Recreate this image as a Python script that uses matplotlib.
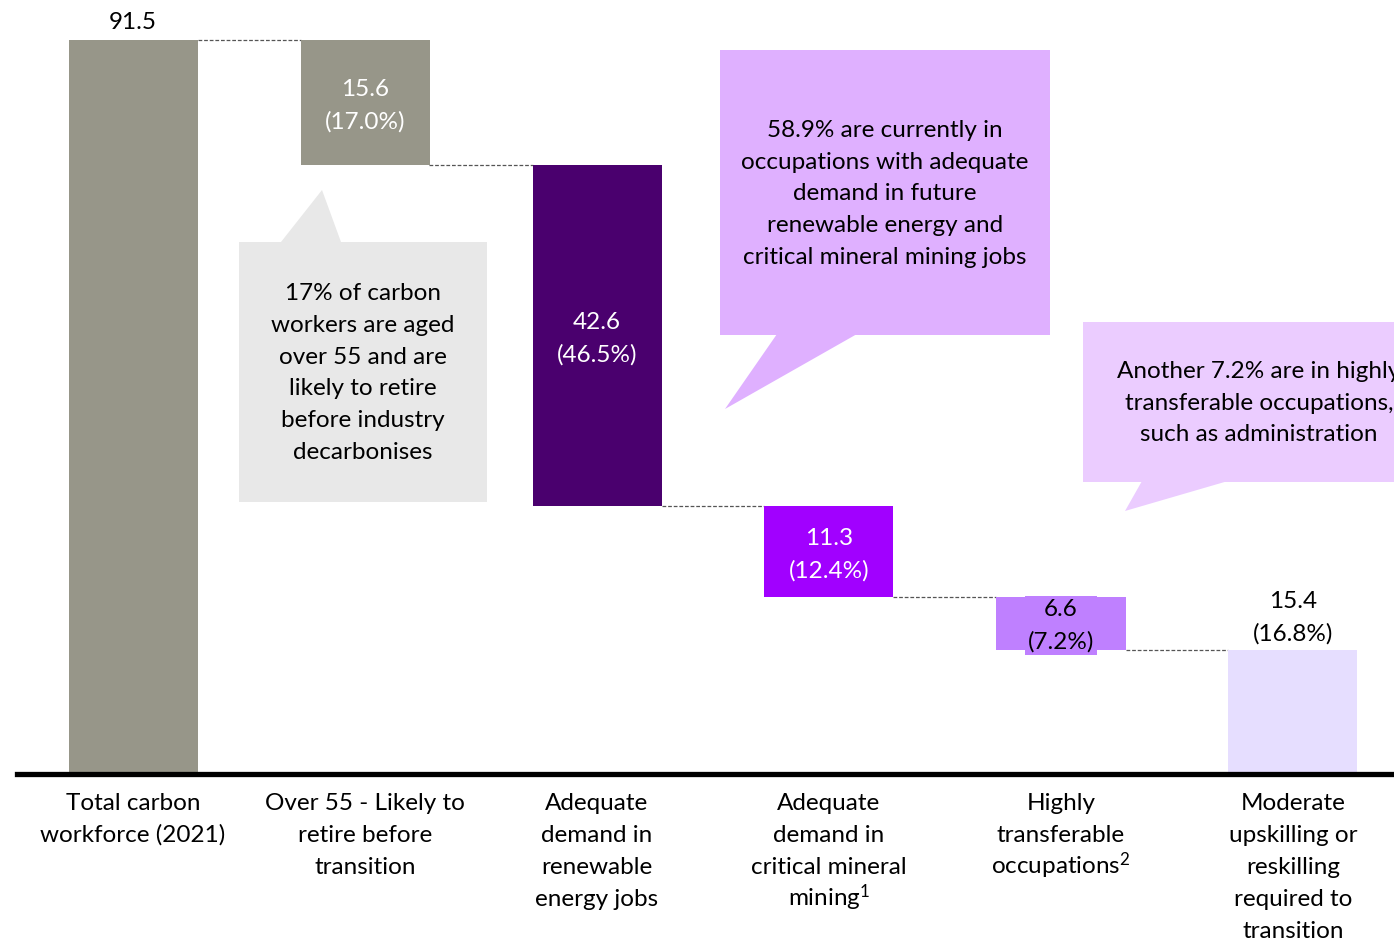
"""Waterfall of the carbon workforce by transition pathway."""

import matplotlib

matplotlib.use("Agg")
import matplotlib.pyplot as plt
from matplotlib.patches import Polygon
from matplotlib.transforms import Affine2D
import numpy as np

plt.rcParams["font.family"] = ["Lato", "DejaVu Sans"]
plt.rcParams["mathtext.default"] = "regular"

categories = [
    ["Total carbon", "workforce (2021)"],
    ["Over 55 - Likely to", "retire before", "transition"],
    ["Adequate", "demand in", "renewable", "energy jobs"],
    ["Adequate", "demand in", "critical mineral", "mining$^{1}$"],
    ["Highly", "transferable", "occupations$^{2}$"],
    ["Moderate", "upskilling or", "reskilling", "required to", "transition"],
]
values = [91.5, 15.6, 42.6, 11.3, 6.6, 15.4]
shares = [None, "17.0%", "46.5%", "12.4%", "7.2%", "16.8%"]
colors = ["#979689", "#979689", "#4a006e", "#a100ff", "#bf80ff", "#e6deff"]
text_colors = ["black", "white", "white", "white", "black", "black"]

W, H = 1394, 940
fig = plt.figure(figsize=(W / 100, H / 100), dpi=100)
px = Affine2D().scale(1 / W, -1 / H).translate(0, 1) + fig.transFigure

# axes spans pixel rows 0..773, x so that bar centres land at 133 + 232*i
ax = fig.add_axes([0, (H - 773) / H, 1, 773 / H])
ax.set_xlim(-133 / 232, (W - 133) / 232)
ax.set_ylim(0, 773 / (733 / 91.5))
ax.axis("off")

# waterfall bottoms
bottoms = [0.0]
level = values[0]
for v in values[1:-1]:
    level -= v
    bottoms.append(level)
bottoms.append(0.0)
x = np.arange(len(values))
width = 129 / 232

ax.bar(x, values, width=width, bottom=bottoms, color=colors, zorder=2)

# dashed connectors
tops = [b + v for b, v in zip(bottoms, values)]
for i in range(len(values) - 1):
    y = bottoms[i] if i > 0 else tops[i]
    ax.plot([x[i] + width / 2, x[i + 1] - width / 2], [y, y],
            ls=(0, (3, 1.5)), lw=0.9, color="#555555", zorder=1)

fs = 17.5
ls = 1.63
ax.text(x[0], tops[0] + 0.9, f"{values[0]}", ha="center", va="bottom", fontsize=fs)
for i in range(1, len(values) - 1):
    label = f"{values[i]}\n({shares[i]})"
    kw = {}
    offset = 0.45
    if i == 4:
        # the small bar's label sits on its own box, taller than the bar
        kw["bbox"] = dict(boxstyle="square,pad=0.12", fc=colors[i], ec="none")
        offset = 0.3
    ax.text(x[i], bottoms[i] + values[i] / 2 - offset, label, ha="center", va="center",
            fontsize=fs, color=text_colors[i], linespacing=ls, zorder=3, **kw)
ax.text(x[-1], tops[-1] + 0.6, f"{values[-1]}\n({shares[-1]})", ha="center",
        va="bottom", fontsize=fs, linespacing=ls)

# baseline
fig.add_artist(plt.Line2D([17, W], [773.5, 773.5], transform=px, color="black", lw=3.8))

# category labels, one text per line so the superscripts keep the spacing
for i, lines in enumerate(categories):
    for k, line in enumerate(lines):
        fig.text(133 + 232 * i, 810 + 32 * k, line, transform=px,
                 ha="center", va="baseline", fontsize=fs)

# callouts
callouts = [
    dict(box=(239, 242, 487, 502), tail=[(281, 242), (322, 190), (341, 242)],
         color="#e8e8e8", center=(363, 373),
         text="17% of carbon\nworkers are aged\nover 55 and are\nlikely to retire\nbefore industry\ndecarbonises"),
    dict(box=(720, 50, 1050, 335), tail=[(777, 334), (725, 409), (857, 334)],
         color="#dfb0ff", center=(885, 194),
         text="58.9% are currently in\noccupations with adequate\ndemand in future\nrenewable energy and\ncritical mineral mining jobs"),
    dict(box=(1083, 322, 1420, 482), tail=[(1142, 481), (1125, 511), (1228, 481)],
         color="#ebccff", center=(1259, 403),
         text="Another 7.2% are in highly\ntransferable occupations,\nsuch as administration"),
]
for c in callouts:
    x0, y0, x1, y1 = c["box"]
    rect = Polygon([(x0, y0), (x1, y0), (x1, y1), (x0, y1)], closed=True,
                   transform=px, fc=c["color"], ec="none", zorder=1)
    tail = Polygon(c["tail"], closed=True, transform=px, fc=c["color"], ec="none", zorder=1)
    fig.add_artist(rect)
    fig.add_artist(tail)
    fig.text(*c["center"], c["text"], transform=px, ha="center", va="center",
             fontsize=fs, linespacing=ls, zorder=2)

fig.savefig("out.png", dpi=100)
